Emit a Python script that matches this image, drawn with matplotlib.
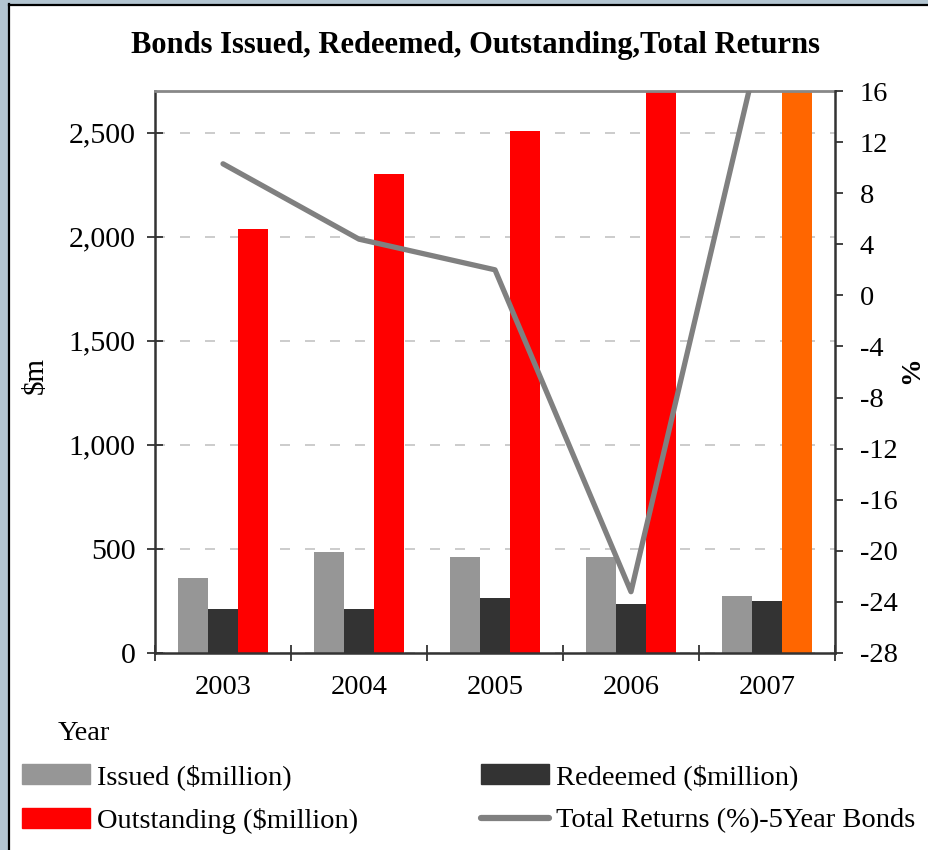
import matplotlib
matplotlib.use("Agg")
import matplotlib.pyplot as plt
import matplotlib.patches as mpatches
from matplotlib.lines import Line2D
import numpy as np

plt.rcParams['font.family'] = ['Liberation Serif', 'DejaVu Serif']

years = ["2003", "2004", "2005", "2006", "2007"]
issued = [361, 486, 462, 462, 274]
redeemed = [212, 212, 264, 236, 250]
outstanding = [2038, 2303, 2510, 2850, 2900]
total_returns = [10.3, 4.4, 2.0, -23.2, 22.0]

left_ticks = [0, 500, 1000, 1500, 2000, 2500]
left_ticklabels = ["0", "500", "1,000", "1,500", "2,000", "2,500"]
right_ticks = list(range(-28, 17, 4))

c_issued = "#969696"
c_redeemed = "#333333"
c_out = "#FF0000"
c_out_last = "#FF6600"
c_line = "#808080"

W, H = 929, 850
fig = plt.figure(figsize=(W / 100, H / 100), dpi=100)
fig.patch.set_facecolor("white")

# window-like border (left and top)
fig.patches.append(mpatches.Rectangle((0, 0), 9 / W, 1, transform=fig.transFigure,
                                      facecolor="#b3c5d1", edgecolor="none", zorder=-5))
fig.patches.append(mpatches.Rectangle((0, 1 - 3.5 / H), 1, 3.5 / H, transform=fig.transFigure,
                                      facecolor="#b3c5d1", edgecolor="none", zorder=-5))
fig.lines.append(Line2D([9.5 / W, 9.5 / W], [0, 1 - 4 / H], transform=fig.transFigure,
                        color="black", lw=1.6))
fig.lines.append(Line2D([9.5 / W, 1], [1 - 4.5 / H, 1 - 4.5 / H], transform=fig.transFigure,
                        color="black", lw=1.6))

ax = fig.add_axes([155 / W, (H - 653) / H, (835 - 155) / W, (653 - 91) / H])
x = np.arange(len(years))
bw = 0.22
ax.bar(x - bw, issued, bw, color=c_issued, zorder=2)
ax.bar(x, redeemed, bw, color=c_redeemed, zorder=2)
out_colors = [c_out] * (len(years) - 1) + [c_out_last]
ax.bar(x + bw, outstanding, bw, color=out_colors, zorder=2)

ax.set_xlim(-0.5, len(years) - 0.5)
ax.set_ylim(0, 2700)
ax.set_yticks(left_ticks)
ax.set_yticklabels(left_ticklabels)
ax.set_xticks(x)
ax.set_xticklabels(years)
ax.set_xticks(np.arange(-0.5, len(years), 1.0), minor=True)
ax.tick_params(axis='x', which='major', length=0, pad=16, labelsize=20.5)
ax.tick_params(axis='x', which='minor', direction='inout', length=12, width=1.2, color="#222222")
ax.tick_params(axis='y', direction='inout', length=12, width=1.2, pad=8, labelsize=21.5, color="#222222")
ax.grid(axis='y', color="#c4c4c4", linestyle=(0, (6, 9)), linewidth=1.2, zorder=0)
ax.set_axisbelow(True)
for s in ['left', 'bottom']:
    ax.spines[s].set_color("#333333")
    ax.spines[s].set_linewidth(1.8)
ax.spines['top'].set_color("#888888")
ax.spines['top'].set_linewidth(2)
ax.spines['right'].set_visible(False)

ax2 = ax.twinx()
ax2.plot(x, total_returns, color=c_line, lw=3.8, solid_capstyle='round', zorder=5, clip_on=True)
ax2.set_ylim(-28, 16)
ax2.set_yticks(right_ticks)
ax2.set_yticklabels([str(v) for v in right_ticks])
ax2.tick_params(axis='y', direction='out', length=6, width=1.2, pad=12, labelsize=20.5, color="#222222")
ax2.spines['right'].set_color("#333333")
ax2.spines['right'].set_linewidth(1.8)
for s in ['left', 'bottom', 'top']:
    ax2.spines[s].set_visible(False)

fig.text(476 / W, 1 - 46 / H, "Bonds Issued, Redeemed, Outstanding,Total Returns",
         ha='center', va='center', fontsize=22, fontweight='bold')
fig.text(36 / W, 1 - 376 / H, r"\$m", rotation=90, ha='center', va='center', fontsize=21)
fig.text(912 / W, 1 - 370 / H, "%", rotation=90, ha='center', va='center', fontsize=20,
         fontweight='bold')
fig.text(58 / W, 1 - 734 / H, "Year", ha='left', va='center', fontsize=20.5)

h1 = [mpatches.Patch(color=c_issued), mpatches.Patch(color=c_out)]
l1 = [r"Issued (\$million)", r"Outstanding (\$million)"]
h2 = [mpatches.Patch(color=c_redeemed), Line2D([], [], color=c_line, lw=4.5, solid_capstyle='round')]
l2 = [r"Redeemed (\$million)", "Total Returns (%)-5Year Bonds"]

common = dict(frameon=False, fontsize=20.5, handlelength=2.4, handleheight=0.7,
              handletextpad=0.25, labelspacing=0.62, borderpad=0, borderaxespad=0,
              loc='upper left')
leg1 = fig.legend(h1, l1, bbox_to_anchor=(22 / W, 1 - 764 / H), **common)
leg2 = fig.legend(h2, l2, bbox_to_anchor=(481 / W, 1 - 764 / H), **common)

fig.savefig("out.png", dpi=100, facecolor="white")
